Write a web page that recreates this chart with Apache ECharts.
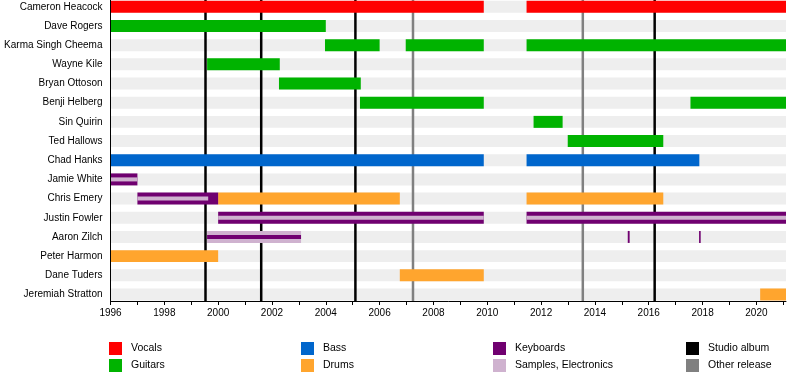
<!DOCTYPE html>
<html>
<head>
<meta charset="utf-8">
<script src="https://cdn.jsdelivr.net/npm/echarts@6/dist/echarts.min.js"></script>
<style>html,body{margin:0;padding:0;background:#fff;}#c{width:800px;height:390px;}</style>
</head>
<body>
<div id="c"></div>
<script>
// ---- data ----
const members = ['Cameron Heacock','Dave Rogers','Karma Singh Cheema','Wayne Kile','Bryan Ottoson','Benji Helberg','Sin Quirin','Ted Hallows','Chad Hanks','Jamie White','Chris Emery','Justin Fowler','Aaron Zilch','Peter Harmon','Dane Tuders','Jeremiah Stratton'];
const startYear = 1996;
const endYear = 2021.1;
const yearTicks = [1996,1997,1998,1999,2000,2001,2002,2003,2004,2005,2006,2007,2008,2009,2010,2011,2012,2013,2014,2015,2016,2017,2018,2019,2020,2021];
const yearLabels = [1996,1998,2000,2002,2004,2006,2008,2010,2012,2014,2016,2018,2020];
// [row, start, end]
const vocals = [[0,1996,2009.87],[0,2011.46,2021.1]];
const guitars = [[1,1996,2004.0],[2,2003.97,2006.0],[2,2006.97,2009.87],[2,2011.46,2021.1],[3,1999.59,2002.29],[4,2002.26,2005.3],[5,2005.27,2009.87],[5,2017.55,2021.1],[6,2011.72,2012.8],[7,2012.99,2016.54]];
const bass = [[8,1996,2009.87],[8,2011.46,2017.88]];
const drums = [[10,2000.0,2006.75],[10,2011.46,2016.54],[13,1996,2000.0],[14,2006.75,2009.87],[15,2020.14,2021.1]];
const keyboardsMain = [[9,1996,1997.0],[10,1997.0,2000.0],[11,2000.0,2009.87],[11,2011.46,2021.1],[12,2015.22,2015.29],[12,2017.87,2017.93]];
const samplesInner = [[9,1996,1997.0],[10,1997.0,1999.63],[11,2000.0,2009.87],[11,2011.46,2021.1]];
const samplesMain = [[12,1999.59,2003.08]];
const keyboardsInner = [[12,1999.59,2003.08]];
const studioAlbums = [1999.53,2001.6,2005.1,2016.22];
const otherReleases = [2007.24,2013.55];

// ---- rendering ----
const FONT = 'Liberation Sans, Arial, sans-serif';
const rowIdx = members.map((_, i) => i);
const stripes = members.map((_, i) => [i, startYear, endYear]);

function barRender(frac) {
  return function (params, api) {
    const row = api.value(0), s = api.value(1), e = api.value(2);
    const p0 = api.coord([s, row]);
    const p1 = api.coord([e, row]);
    const h = api.size([0, 1])[1] * frac;
    return {
      type: 'rect',
      shape: { x: p0[0], y: p0[1] - h / 2, width: Math.max(p1[0] - p0[0], 1.5), height: h },
      style: { fill: api.visual('color') }
    };
  };
}
function lineRender(params, api) {
  const x = api.coord([api.value(0), 0])[0];
  const cs = params.coordSys;
  return {
    type: 'line',
    shape: { x1: x, y1: cs.y, x2: x, y2: cs.y + cs.height },
    style: { stroke: api.visual('color'), lineWidth: 2.5 }
  };
}
const barFrac = 0.625;
const innerFrac = 0.21;
function barSeries(name, data, color, frac, z) {
  return {
    name: name, type: 'custom', data: data, z: z,
    encode: { x: [1, 2], y: 0 },
    itemStyle: { color: color },
    renderItem: barRender(frac),
    silent: true
  };
}
const C = {
  vocals: '#ff0000', guitars: '#00b300', bass: '#0066cc', drums: '#ffa52e',
  keyboards: '#700070', samples: '#cfb2cf', studio: '#000000', other: '#808080'
};

const chart = echarts.init(document.getElementById('c'), null, { renderer: 'canvas' });
const legendBase = {
  orient: 'vertical', itemWidth: 13, itemHeight: 13, itemGap: 4, icon: 'rect',
  selectedMode: false, padding: 0,
  textStyle: { fontFamily: FONT, fontSize: 10.5, color: '#000', padding: [0, 0, 0, 4] }
};
chart.setOption({
  animation: false,
  backgroundColor: '#fff',
  grid: { left: 110.5, right: 14, top: 0, bottom: 89, outerBoundsMode: 'none' },
  xAxis: {
    type: 'value', min: startYear, max: endYear, z: 10,
    axisLine: { show: true, onZero: false, lineStyle: { color: '#000', width: 1 } },
    axisTick: { show: true, customValues: yearTicks, length: 4, lineStyle: { color: '#000' } },
    axisLabel: { customValues: yearLabels, formatter: v => String(v), margin: 7, color: '#000', fontSize: 10, fontFamily: FONT },
    splitLine: { show: false }
  },
  yAxis: {
    type: 'value', inverse: true, min: -0.355, max: 15.34, z: 10,
    axisLine: { show: true, onZero: false, lineStyle: { color: '#000', width: 1 } },
    axisTick: { show: false },
    axisLabel: { customValues: rowIdx, formatter: v => members[v], margin: 8, color: '#000', fontSize: 10, fontFamily: FONT },
    splitLine: { show: false }
  },
  legend: [
    Object.assign({ data: ['Vocals', 'Guitars'], left: 109, top: 342 }, legendBase),
    Object.assign({ data: ['Bass', 'Drums'], left: 301, top: 342 }, legendBase),
    Object.assign({ data: ['Keyboards', 'Samples, Electronics'], left: 493, top: 342 }, legendBase),
    Object.assign({ data: ['Studio album', 'Other release'], left: 686, top: 342 }, legendBase)
  ],
  series: [
    {
      name: 'bg', type: 'custom', data: stripes, z: 1, encode: { x: [1, 2], y: 0 },
      itemStyle: { color: '#eeeeee' }, renderItem: barRender(barFrac), silent: true
    },
    {
      name: 'Studio album', type: 'custom', data: studioAlbums.map(v => [v]), z: 2,
      encode: { x: 0 }, itemStyle: { color: C.studio }, renderItem: lineRender, silent: true
    },
    {
      name: 'Other release', type: 'custom', data: otherReleases.map(v => [v]), z: 2,
      encode: { x: 0 }, itemStyle: { color: C.other }, renderItem: lineRender, silent: true
    },
    barSeries('Vocals', vocals, C.vocals, barFrac, 3),
    barSeries('Guitars', guitars, C.guitars, barFrac, 3),
    barSeries('Bass', bass, C.bass, barFrac, 3),
    barSeries('Drums', drums, C.drums, barFrac, 3),
    barSeries('Keyboards', keyboardsMain, C.keyboards, barFrac, 3),
    barSeries('Samples, Electronics', samplesMain, C.samples, barFrac, 3),
    barSeries('Samples, Electronics', samplesInner, C.samples, innerFrac, 4),
    barSeries('Keyboards', keyboardsInner, C.keyboards, innerFrac, 4)
  ]
});
</script>
</body>
</html>
